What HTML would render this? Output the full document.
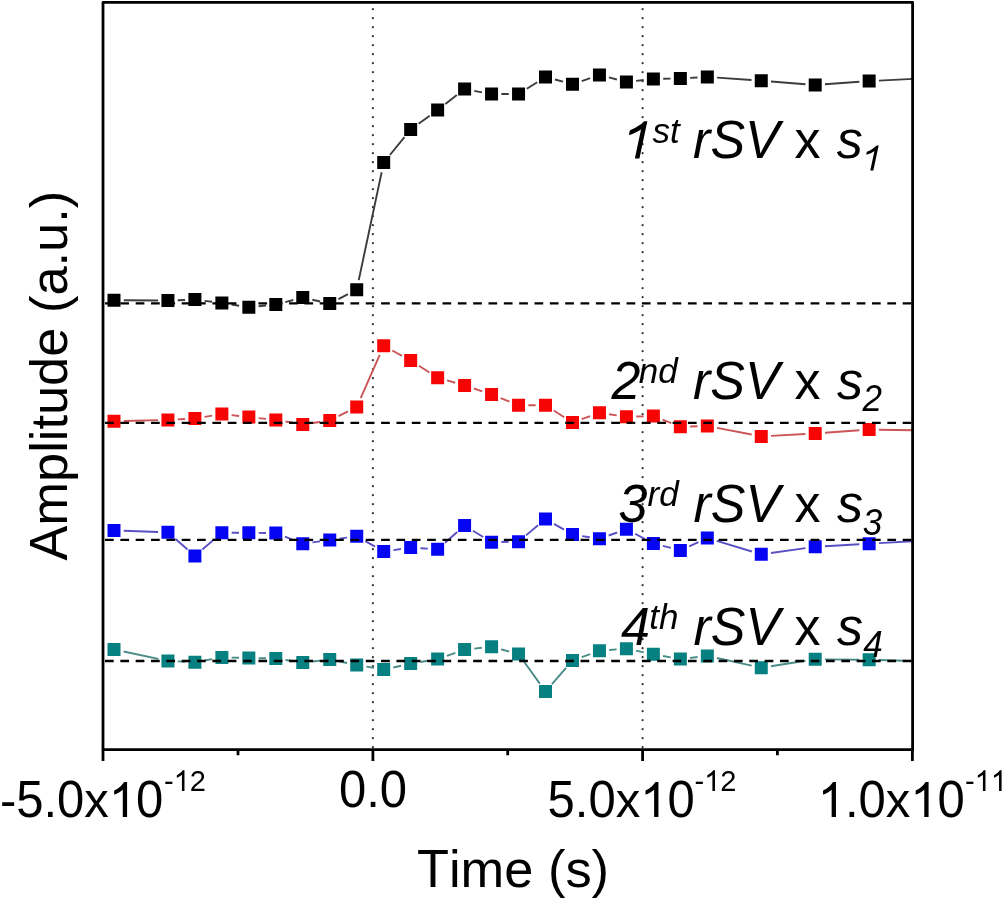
<!DOCTYPE html>
<html><head><meta charset="utf-8"><style>
html,body{margin:0;padding:0;background:#fff;width:1003px;height:898px;overflow:hidden}
svg{display:block;filter:blur(0.3px)}text{font-family:"Liberation Sans",sans-serif;fill:#000;font-kerning:none}
</style></head><body>
<svg width="1003" height="898" viewBox="0 0 1003 898">
<rect width="1003" height="898" fill="#fff"/>
<defs><clipPath id="pc"><rect x="103.0" y="2.4" width="809.6" height="747.3"/></clipPath></defs>
<line x1="372.9" y1="9.15" x2="372.9" y2="748.7" stroke="#333" stroke-width="2.2" stroke-linecap="round" stroke-dasharray="0 9"/>
<line x1="642.6" y1="9.15" x2="642.6" y2="748.7" stroke="#333" stroke-width="2.2" stroke-linecap="round" stroke-dasharray="0 9"/>
<g clip-path="url(#pc)">
<path d="M123.79 300.27L158.13 300.53M177.72 300.24L185.10 299.96M204.62 300.83L212.14 301.77M231.55 304.51L239.15 305.69M258.59 306.22L266.06 305.48M285.30 302.07L293.28 300.03M312.34 299.73L320.18 301.47M338.46 299.11L348.01 294.19M358.75 280.11L381.65 172.19M389.88 155.00L404.47 137.10M418.59 123.74L429.70 115.66M445.39 103.92L456.84 95.08M474.23 90.89L481.93 92.31M501.37 94.06L508.74 94.04M526.83 88.77L537.22 82.23M554.98 79.53L563.01 81.67M581.75 81.04L590.17 78.16M608.94 77.43L616.92 79.47M636.16 80.82L643.65 79.98M663.19 78.75L670.56 78.65M690.14 77.92L697.55 77.48M717.10 77.59L751.49 80.01M771.04 81.48L805.44 84.22M824.98 84.29L859.37 81.81M878.94 80.61L923.09 78.40" stroke="#3c3c3c" stroke-width="1.90" fill="none" stroke-linecap="butt"/>
<path d="M123.79 420.96L158.13 420.14M177.71 419.39L185.11 419.01M204.56 416.89L212.20 415.61M231.60 415.12L239.10 415.98M258.59 418.11L266.06 418.89M285.47 421.51L293.11 422.79M312.48 423.03L320.04 421.97M338.50 416.19L347.97 411.41M360.67 398.03L379.74 354.77M392.29 350.49L402.05 355.81M418.91 365.79L429.38 372.51M447.06 380.46L455.17 382.74M473.89 388.50L482.27 391.30M500.65 398.07L509.45 401.63M528.34 405.26L535.71 405.24M553.76 410.49L564.23 417.21M581.70 419.18L590.23 416.12M609.14 414.24L616.72 415.36M636.21 416.55L643.59 416.35M662.51 419.68L671.24 423.12M690.15 426.45L697.53 426.25M716.95 427.86L751.65 434.54M771.05 435.86L805.42 433.94M824.98 432.71L859.37 430.29M878.95 429.75L923.09 430.40" stroke="#cc5558" stroke-width="1.90" fill="none" stroke-linecap="butt"/>
<path d="M123.78 530.74L158.13 531.96M175.29 538.77L187.54 549.53M202.31 549.59L214.45 539.11M231.67 532.74L239.04 532.76M258.64 532.91L266.01 532.99M284.92 536.71L293.67 540.19M312.48 542.43L320.04 541.37M339.46 538.67L347.01 537.63M365.26 541.11L375.15 546.69M393.39 550.10L400.96 549.00M420.44 548.18L427.85 548.62M445.00 542.75L457.22 532.05M472.94 530.74L483.22 537.06M501.37 542.02L508.74 541.88M526.02 535.37L538.02 525.23M553.98 523.83L564.01 529.67M582.16 536.11L589.76 537.29M608.68 535.51L617.19 532.49M635.09 533.77L644.72 538.83M662.87 545.86L670.87 547.94M689.27 546.33L698.41 542.17M716.71 540.92L751.88 551.48M770.97 552.95L805.50 548.15M824.99 546.24L859.36 544.26M878.93 543.14L923.09 540.60" stroke="#5a50c4" stroke-width="1.90" fill="none" stroke-linecap="butt"/>
<path d="M123.58 651.53L158.34 658.87M177.72 661.37L185.11 661.73M204.55 660.48L212.22 659.12M231.67 657.62L239.04 657.78M258.64 658.18L266.01 658.32M285.50 659.94L293.08 661.06M312.52 661.45L320.00 660.65M339.36 661.49L347.10 663.01M366.37 666.58L374.03 667.92M393.25 667.47L401.09 665.73M420.32 661.99L427.96 660.71M446.87 655.84L455.35 652.86M474.35 648.59L481.82 647.81M501.04 649.33L509.07 651.47M524.25 661.96L539.80 683.64M551.94 684.21L566.05 667.99M581.68 657.22L590.25 654.08M609.22 649.98L616.64 649.42M636.01 650.69L643.79 652.31M663.04 656.02L670.71 657.38M690.09 657.95L697.60 657.05M716.90 657.99L751.69 665.61M770.95 666.19L805.52 660.81M825.01 659.39L859.35 659.71M878.94 660.07L923.09 661.30" stroke="#4a8c88" stroke-width="1.90" fill="none" stroke-linecap="butt"/>
<path d="M107.49 293.70h13.0v13.0h-13.0zM161.43 294.10h13.0v13.0h-13.0zM188.40 293.10h13.0v13.0h-13.0zM215.37 296.50h13.0v13.0h-13.0zM242.34 300.70h13.0v13.0h-13.0zM269.31 298.00h13.0v13.0h-13.0zM296.28 291.10h13.0v13.0h-13.0zM323.25 297.10h13.0v13.0h-13.0zM350.22 283.20h13.0v13.0h-13.0zM377.19 156.10h13.0v13.0h-13.0zM404.16 123.00h13.0v13.0h-13.0zM431.13 103.40h13.0v13.0h-13.0zM458.10 82.60h13.0v13.0h-13.0zM485.07 87.60h13.0v13.0h-13.0zM512.04 87.50h13.0v13.0h-13.0zM539.01 70.50h13.0v13.0h-13.0zM565.98 77.70h13.0v13.0h-13.0zM592.95 68.50h13.0v13.0h-13.0zM619.92 75.40h13.0v13.0h-13.0zM646.89 72.40h13.0v13.0h-13.0zM673.86 72.00h13.0v13.0h-13.0zM700.83 70.40h13.0v13.0h-13.0zM754.77 74.20h13.0v13.0h-13.0zM808.71 78.50h13.0v13.0h-13.0zM862.65 74.60h13.0v13.0h-13.0z" fill="#000000"/>
<path d="M107.49 414.70h13.0v13.0h-13.0zM161.43 413.40h13.0v13.0h-13.0zM188.40 412.00h13.0v13.0h-13.0zM215.37 407.50h13.0v13.0h-13.0zM242.34 410.60h13.0v13.0h-13.0zM269.31 413.40h13.0v13.0h-13.0zM296.28 417.90h13.0v13.0h-13.0zM323.25 414.10h13.0v13.0h-13.0zM350.22 400.50h13.0v13.0h-13.0zM377.19 339.30h13.0v13.0h-13.0zM404.16 354.00h13.0v13.0h-13.0zM431.13 371.30h13.0v13.0h-13.0zM458.10 378.90h13.0v13.0h-13.0zM485.07 387.90h13.0v13.0h-13.0zM512.04 398.80h13.0v13.0h-13.0zM539.01 398.70h13.0v13.0h-13.0zM565.98 416.00h13.0v13.0h-13.0zM592.95 406.30h13.0v13.0h-13.0zM619.92 410.30h13.0v13.0h-13.0zM646.89 409.60h13.0v13.0h-13.0zM673.86 420.20h13.0v13.0h-13.0zM700.83 419.50h13.0v13.0h-13.0zM754.77 429.90h13.0v13.0h-13.0zM808.71 426.90h13.0v13.0h-13.0zM862.65 423.10h13.0v13.0h-13.0z" fill="#f70505"/>
<path d="M107.49 523.90h13.0v13.0h-13.0zM161.43 525.80h13.0v13.0h-13.0zM188.40 549.50h13.0v13.0h-13.0zM215.37 526.20h13.0v13.0h-13.0zM242.34 526.30h13.0v13.0h-13.0zM269.31 526.60h13.0v13.0h-13.0zM296.28 537.30h13.0v13.0h-13.0zM323.25 533.50h13.0v13.0h-13.0zM350.22 529.80h13.0v13.0h-13.0zM377.19 545.00h13.0v13.0h-13.0zM404.16 541.10h13.0v13.0h-13.0zM431.13 542.70h13.0v13.0h-13.0zM458.10 519.10h13.0v13.0h-13.0zM485.07 535.70h13.0v13.0h-13.0zM512.04 535.20h13.0v13.0h-13.0zM539.01 512.40h13.0v13.0h-13.0zM565.98 528.10h13.0v13.0h-13.0zM592.95 532.30h13.0v13.0h-13.0zM619.92 522.70h13.0v13.0h-13.0zM646.89 536.90h13.0v13.0h-13.0zM673.86 543.90h13.0v13.0h-13.0zM700.83 531.60h13.0v13.0h-13.0zM754.77 547.80h13.0v13.0h-13.0zM808.71 540.30h13.0v13.0h-13.0zM862.65 537.20h13.0v13.0h-13.0z" fill="#0505f4"/>
<path d="M107.49 643.00h13.0v13.0h-13.0zM161.43 654.40h13.0v13.0h-13.0zM188.40 655.70h13.0v13.0h-13.0zM215.37 650.90h13.0v13.0h-13.0zM242.34 651.50h13.0v13.0h-13.0zM269.31 652.00h13.0v13.0h-13.0zM296.28 656.00h13.0v13.0h-13.0zM323.25 653.10h13.0v13.0h-13.0zM350.22 658.40h13.0v13.0h-13.0zM377.19 663.10h13.0v13.0h-13.0zM404.16 657.10h13.0v13.0h-13.0zM431.13 652.60h13.0v13.0h-13.0zM458.10 643.10h13.0v13.0h-13.0zM485.07 640.30h13.0v13.0h-13.0zM512.04 647.50h13.0v13.0h-13.0zM539.01 685.10h13.0v13.0h-13.0zM565.98 654.10h13.0v13.0h-13.0zM592.95 644.20h13.0v13.0h-13.0zM619.92 642.20h13.0v13.0h-13.0zM646.89 647.80h13.0v13.0h-13.0zM673.86 652.60h13.0v13.0h-13.0zM700.83 649.40h13.0v13.0h-13.0zM754.77 661.20h13.0v13.0h-13.0zM808.71 652.80h13.0v13.0h-13.0zM862.65 653.30h13.0v13.0h-13.0z" fill="#068080"/>
</g>
<line x1="103.0" y1="303.4" x2="911.4" y2="303.4" stroke="#000" stroke-width="2.3" stroke-dasharray="8.7 6.64" stroke-dashoffset="-2.0"/>
<line x1="103.0" y1="422.9" x2="911.4" y2="422.9" stroke="#000" stroke-width="2.3" stroke-dasharray="8.7 6.64" stroke-dashoffset="-2.0"/>
<line x1="103.0" y1="539.8" x2="911.4" y2="539.8" stroke="#000" stroke-width="2.3" stroke-dasharray="8.7 6.64" stroke-dashoffset="-2.0"/>
<line x1="103.0" y1="661.0" x2="911.4" y2="661.0" stroke="#000" stroke-width="2.3" stroke-dasharray="8.7 6.64" stroke-dashoffset="-2.0"/>
<rect x="103.0" y="2.4" width="809.6" height="747.3" fill="none" stroke="#000" stroke-width="2.8" stroke-linejoin="round"/>
<path d="M103.0 749.7V761.0M372.9 749.7V761.0M642.6 749.7V761.0M912.4 749.7V761.0M238.0 749.7V755.3M507.7 749.7V755.3M777.4 749.7V755.3" stroke="#000" stroke-width="2.8" fill="none"/>
<path transform="matrix(0.02539 0 0.00540 -0.02539 620.06 158.40)" d="M763 0H583V1147C518 1085 420 1025 323 982C260 955 200 935 150 925V1099C262 1150 368 1216 452 1282C536 1348 608 1410 638 1466H763Z"/>
<text transform="translate(652.60 142.60) scale(1 0.985)" font-size="35.00" font-style="italic">st</text>
<text transform="translate(693.10 158.40) scale(1 0.985)" font-size="52.00" font-style="italic">r</text><text transform="translate(710.42 158.40) scale(1 1.040)" font-size="52.00" font-style="italic">SV</text>
<text transform="translate(794.40 158.40) scale(1 0.985)" font-size="52.00">x</text>
<text transform="translate(836.70 158.40) scale(1 0.985)" font-size="52.00" font-style="italic">s</text>
<path transform="matrix(0.01709 0 0.00363 -0.01709 860.30 170.60)" d="M763 0H583V1147C518 1085 420 1025 323 982C260 955 200 935 150 925V1099C262 1150 368 1216 452 1282C536 1348 608 1410 638 1466H763Z"/>
<text transform="translate(611.50 398.70) scale(1 1.040)" font-size="52.00" font-style="italic">2</text>
<text transform="translate(638.80 382.90) scale(1 0.985)" font-size="35.00" font-style="italic">nd</text>
<text transform="translate(693.00 398.70) scale(1 0.985)" font-size="52.00" font-style="italic">r</text><text transform="translate(710.32 398.70) scale(1 1.040)" font-size="52.00" font-style="italic">SV</text>
<text transform="translate(794.55 398.70) scale(1 0.985)" font-size="52.00">x</text>
<text transform="translate(836.90 398.70) scale(1 0.985)" font-size="52.00" font-style="italic">s</text>
<text transform="translate(862.40 411.00) scale(1 1.040)" font-size="35.00" font-style="italic">2</text>
<text transform="translate(618.50 522.00) scale(1 1.040)" font-size="52.00" font-style="italic">3</text>
<text transform="translate(647.60 506.00) scale(1 0.985)" font-size="35.00" font-style="italic">rd</text>
<text transform="translate(693.50 522.00) scale(1 0.985)" font-size="52.00" font-style="italic">r</text><text transform="translate(710.82 522.00) scale(1 1.040)" font-size="52.00" font-style="italic">SV</text>
<text transform="translate(794.55 522.00) scale(1 0.985)" font-size="52.00">x</text>
<text transform="translate(836.90 522.00) scale(1 0.985)" font-size="52.00" font-style="italic">s</text>
<text transform="translate(862.80 534.60) scale(1 1.040)" font-size="35.00" font-style="italic">3</text>
<text transform="translate(621.10 645.00) scale(1 1.040)" font-size="52.00" font-style="italic">4</text>
<text transform="translate(649.30 629.10) scale(1 0.985)" font-size="35.00" font-style="italic">th</text>
<text transform="translate(693.50 645.00) scale(1 0.985)" font-size="52.00" font-style="italic">r</text><text transform="translate(710.82 645.00) scale(1 1.040)" font-size="52.00" font-style="italic">SV</text>
<text transform="translate(794.55 645.00) scale(1 0.985)" font-size="52.00">x</text>
<text transform="translate(836.90 645.00) scale(1 0.985)" font-size="52.00" font-style="italic">s</text>
<text transform="translate(863.30 657.30) scale(1 1.040)" font-size="35.00" font-style="italic">4</text>
<text transform="translate(-0.10 817.10) scale(1 1.000)" font-size="49.00">-</text><text transform="translate(16.22 817.10) scale(1 1.040)" font-size="49.00">5</text><text transform="translate(43.47 817.10) scale(1 1.000)" font-size="49.00">.</text><text transform="translate(57.08 817.10) scale(1 1.040)" font-size="49.00">0</text><text transform="translate(84.33 817.10) scale(1 0.985)" font-size="49.00">x</text><path transform="matrix(0.02393 0 0 -0.02393 108.83 817.10)" d="M763 0H583V1147C518 1085 430 1030 343 990C300 970 258 952 223 940V1114C322 1160 408 1216 482 1282C556 1348 608 1410 638 1466H763Z"/><text transform="translate(136.09 817.10) scale(1 1.040)" font-size="49.00">0</text>
<text transform="translate(164.00 791.00) scale(1 1.000)" font-size="29.00">-</text><path transform="matrix(0.01416 0 0 -0.01416 173.66 791.00)" d="M763 0H583V1147C518 1085 430 1030 343 990C300 970 258 952 223 940V1114C322 1160 408 1216 482 1282C556 1348 608 1410 638 1466H763Z"/><text transform="translate(189.79 791.00) scale(1 1.040)" font-size="29.00">2</text>
<text transform="translate(339.00 807.40) scale(1 1.040)" font-size="49.00">0</text><text transform="translate(366.25 807.40) scale(1 1.000)" font-size="49.00">.</text><text transform="translate(379.87 807.40) scale(1 1.040)" font-size="49.00">0</text>
<text transform="translate(547.55 817.10) scale(1 1.040)" font-size="49.00">5</text><text transform="translate(574.80 817.10) scale(1 1.000)" font-size="49.00">.</text><text transform="translate(588.42 817.10) scale(1 1.040)" font-size="49.00">0</text><text transform="translate(615.67 817.10) scale(1 0.985)" font-size="49.00">x</text><path transform="matrix(0.02393 0 0 -0.02393 640.17 817.10)" d="M763 0H583V1147C518 1085 430 1030 343 990C300 970 258 952 223 940V1114C322 1160 408 1216 482 1282C556 1348 608 1410 638 1466H763Z"/><text transform="translate(667.42 817.10) scale(1 1.040)" font-size="49.00">0</text>
<text transform="translate(694.50 791.00) scale(1 1.000)" font-size="29.00">-</text><path transform="matrix(0.01416 0 0 -0.01416 704.16 791.00)" d="M763 0H583V1147C518 1085 430 1030 343 990C300 970 258 952 223 940V1114C322 1160 408 1216 482 1282C556 1348 608 1410 638 1466H763Z"/><text transform="translate(720.29 791.00) scale(1 1.040)" font-size="29.00">2</text>
<path transform="matrix(0.02393 0 0 -0.02393 817.70 817.10)" d="M763 0H583V1147C518 1085 430 1030 343 990C300 970 258 952 223 940V1114C322 1160 408 1216 482 1282C556 1348 608 1410 638 1466H763Z"/><text transform="translate(844.95 817.10) scale(1 1.000)" font-size="49.00">.</text><text transform="translate(858.57 817.10) scale(1 1.040)" font-size="49.00">0</text><text transform="translate(885.82 817.10) scale(1 0.985)" font-size="49.00">x</text><path transform="matrix(0.02393 0 0 -0.02393 910.32 817.10)" d="M763 0H583V1147C518 1085 430 1030 343 990C300 970 258 952 223 940V1114C322 1160 408 1216 482 1282C556 1348 608 1410 638 1466H763Z"/><text transform="translate(937.57 817.10) scale(1 1.040)" font-size="49.00">0</text>
<text transform="translate(965.00 791.00) scale(1 1.000)" font-size="29.00">-</text><path transform="matrix(0.01416 0 0 -0.01416 974.66 791.00)" d="M763 0H583V1147C518 1085 430 1030 343 990C300 970 258 952 223 940V1114C322 1160 408 1216 482 1282C556 1348 608 1410 638 1466H763Z"/><path transform="matrix(0.01416 0 0 -0.01416 990.79 791.00)" d="M763 0H583V1147C518 1085 430 1030 343 990C300 970 258 952 223 940V1114C322 1160 408 1216 482 1282C556 1348 608 1410 638 1466H763Z"/>
<text transform="translate(416.94 886.90) scale(1 1.040)" font-size="52.40">T</text><text transform="translate(448.95 886.90) scale(1 0.985)" font-size="52.40">ime</text><text transform="translate(547.94 886.90) scale(1 1.000)" font-size="52.40">(</text><text transform="translate(565.39 886.90) scale(1 0.985)" font-size="52.40">s</text><text transform="translate(591.59 886.90) scale(1 1.000)" font-size="52.40">)</text>
<g transform="translate(67.2 560.6) rotate(-90)"><text transform="translate(0.00 0.00) scale(1 1.040)" font-size="52.40">A</text><text transform="translate(34.95 0.00) scale(1 0.985)" font-size="52.40">mplitude</text><text transform="translate(247.57 0.00) scale(1 1.000)" font-size="52.40">(</text><text transform="translate(265.02 0.00) scale(1 0.985)" font-size="52.40">a</text><text transform="translate(294.16 0.00) scale(1 1.000)" font-size="52.40">.</text><text transform="translate(308.72 0.00) scale(1 0.985)" font-size="52.40">u</text><text transform="translate(337.86 0.00) scale(1 1.000)" font-size="52.40">.)</text></g>
</svg></body></html>
